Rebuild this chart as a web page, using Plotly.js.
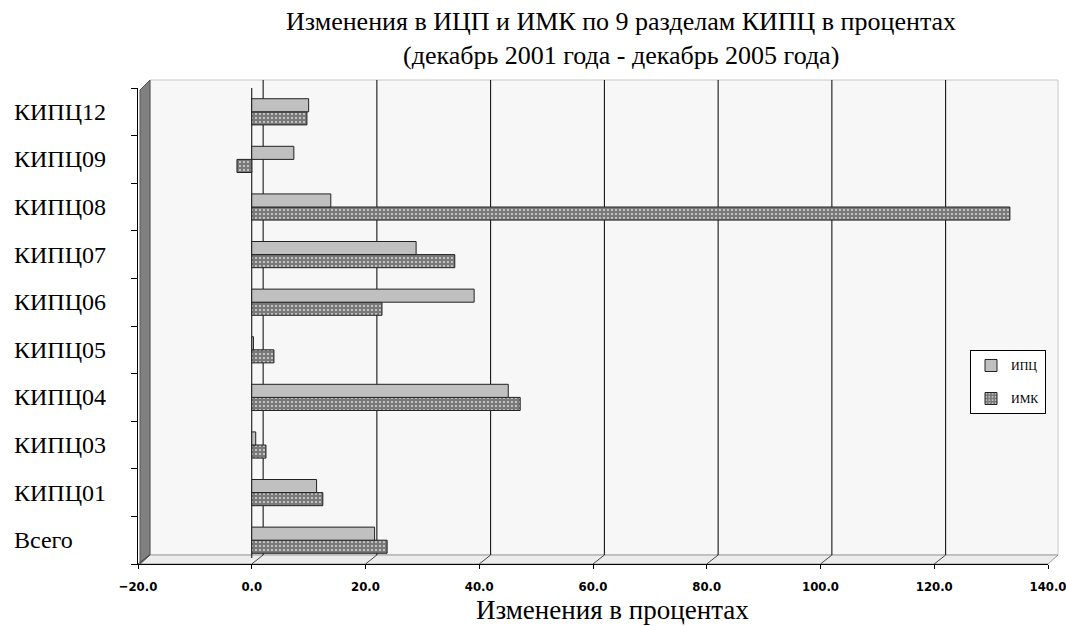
<!DOCTYPE html>
<html>
<head>
<meta charset="utf-8">
<script src="https://cdn.plot.ly/plotly-3.0.1.min.js"></script>
<style>html,body{margin:0;padding:0;background:#fff;}#chart{width:1066px;height:626px;}</style>
</head>
<body>
<div id="chart"></div>
<script>
// ---- data ----
const categories = ['Всего','КИПЦ01','КИПЦ03','КИПЦ04','КИПЦ05','КИПЦ06','КИПЦ07','КИПЦ08','КИПЦ09','КИПЦ12'];
const ipcValues  = [21.6, 11.4, 0.7, 45.1, 0.3, 39.1, 28.9, 13.9, 7.4, 10.0];
const imkValues  = [23.8, 12.5, 2.5, 47.2, 3.9, 22.9, 35.7, 133.3, -2.6, 9.7];
const seriesNames = ['ИПЦ','ИМК'];
const xTickValues = [-20, 0, 20, 40, 60, 80, 100, 120, 140];
const titleLines = ['Изменения в ИЦП и ИМК по 9 разделам КИПЦ в процентах', '(декабрь 2001 года - декабрь 2005 года)'];
const xTitleText = 'Изменения в процентах';

// ---- geometry helpers (pixel -> paper) ----
const L = 138, R = 18, T = 88, B = 62, W = 1066, H = 626;
const PW = W - L - R, PH = H - T - B;
const px = p => (p - L) / PW;
const py = p => (H - B - p) / PH;
const depth = 2; // back-wall offset in data units

const serif = 'Liberation Serif, Times New Roman, serif';
const narrow = 'Liberation Sans Narrow, DejaVu Sans Condensed, Arial Narrow, sans-serif';

const traces = [
  {
    type: 'bar', orientation: 'h', name: seriesNames[1], legendgroup: 'b', legendrank: 2,
    y: categories, x: imkValues,
    marker: {
      color: '#808080',
      line: {color: '#222', width: 1},
      pattern: {shape: '.', bgcolor: '#7a7a7a', fgcolor: '#dddddd', size: 4, solidity: 0.18}
    },
    hoverinfo: 'x+y'
  },
  {
    type: 'bar', orientation: 'h', name: seriesNames[0], legendgroup: 'a', legendrank: 1,
    y: categories, x: ipcValues,
    marker: {color: '#c0c0c0', line: {color: '#222', width: 1}},
    hoverinfo: 'x+y'
  }
];

const shapes = [];
// back wall
shapes.push({type: 'rect', xref: 'paper', yref: 'paper', layer: 'below',
  x0: px(150), x1: px(1058), y0: py(555), y1: py(80),
  fillcolor: '#f7f7f7', line: {color: '#c8c8c8', width: 1}});
// floor
shapes.push({type: 'path', xref: 'paper', yref: 'paper', layer: 'below',
  path: `M ${px(140)} ${py(564)} L ${px(1048)} ${py(564)} L ${px(1058)} ${py(555)} L ${px(150)} ${py(555)} Z`,
  fillcolor: '#ececec', line: {color: '#9a9a9a', width: 1}});
// left wall
shapes.push({type: 'path', xref: 'paper', yref: 'paper', layer: 'below',
  path: `M ${px(140)} ${py(564)} L ${px(140)} ${py(90)} L ${px(150)} ${py(80)} L ${px(150)} ${py(555)} Z`,
  fillcolor: '#808080', line: {color: '#555', width: 1}});
// back-wall gridlines
xTickValues.filter(v => v >= 0 && v < 140).forEach(v => {
  shapes.push({type: 'line', xref: 'x', yref: 'paper', layer: 'below',
    x0: v + depth, x1: v + depth, y0: py(555), y1: py(80),
    line: {color: '#000', width: 1}});
});
// floor tick diagonals
xTickValues.forEach(v => {
  shapes.push({type: 'line', xref: 'x', yref: 'paper', layer: 'below',
    x0: v, x1: v + depth, y0: py(564), y1: py(555),
    line: {color: '#444', width: 1}});
});
// front zero line
shapes.push({type: 'line', xref: 'x', yref: 'paper', layer: 'below',
  x0: 0, x1: 0, y0: py(558), y1: 1, line: {color: '#000', width: 1}});

const annotations = categories.map(c => ({
  xref: 'paper', yref: 'y', x: px(12), y: c, xanchor: 'left', yanchor: 'middle',
  text: c, showarrow: false, font: {family: serif, size: 24, color: '#000'}
}));
annotations.push({
  xref: 'paper', yref: 'paper', x: px(612), y: py(610), xanchor: 'center', yanchor: 'middle',
  text: xTitleText, showarrow: false, font: {family: serif, size: 27, color: '#000'}
});
const titleY = [21, 55];
titleLines.forEach((t, i) => annotations.push({
  xref: 'paper', yref: 'paper', x: px(621), y: py(titleY[i]), xanchor: 'center', yanchor: 'middle',
  text: t, showarrow: false, font: {family: serif, size: 26, color: '#000'}
}));

const layout = {
  width: W, height: H,
  margin: {l: L, r: R, t: T, b: B, pad: 0},
  paper_bgcolor: '#fff', plot_bgcolor: 'rgba(0,0,0,0)',
  barmode: 'group', bargap: 0.45, bargroupgap: 0,
  xaxis: {
    range: [-20, 140], tickvals: xTickValues, tickformat: '.1f',
    showgrid: false, zeroline: false,
    showline: true, linecolor: '#000', linewidth: 1,
    ticks: 'outside', ticklen: 4, tickcolor: '#000',
    ticklabelstandoff: 6, ticklabeloverflow: 'allow',
    tickfont: {family: narrow, size: 13, color: '#000', weight: 'bold'},
    fixedrange: true
  },
  yaxis: {
    type: 'category', categoryorder: 'array', categoryarray: categories,
    range: [-0.5, categories.length - 0.5],
    showticklabels: false, showgrid: false, zeroline: false,
    showline: true, linecolor: '#000', linewidth: 1,
    ticks: 'outside', ticklen: 6, tickcolor: '#000', tickson: 'boundaries',
    fixedrange: true
  },
  legend: {
    x: px(970), y: py(350), xanchor: 'left', yanchor: 'top',
    traceorder: 'grouped', tracegroupgap: 14,
    bgcolor: '#fff', bordercolor: '#000', borderwidth: 1,
    itemwidth: 30,
    font: {family: serif, size: 12, color: '#000'}
  },
  shapes: shapes,
  annotations: annotations,
  showlegend: true
};

Plotly.newPlot('chart', traces, layout, {displayModeBar: false, staticPlot: true});
</script>
</body>
</html>
